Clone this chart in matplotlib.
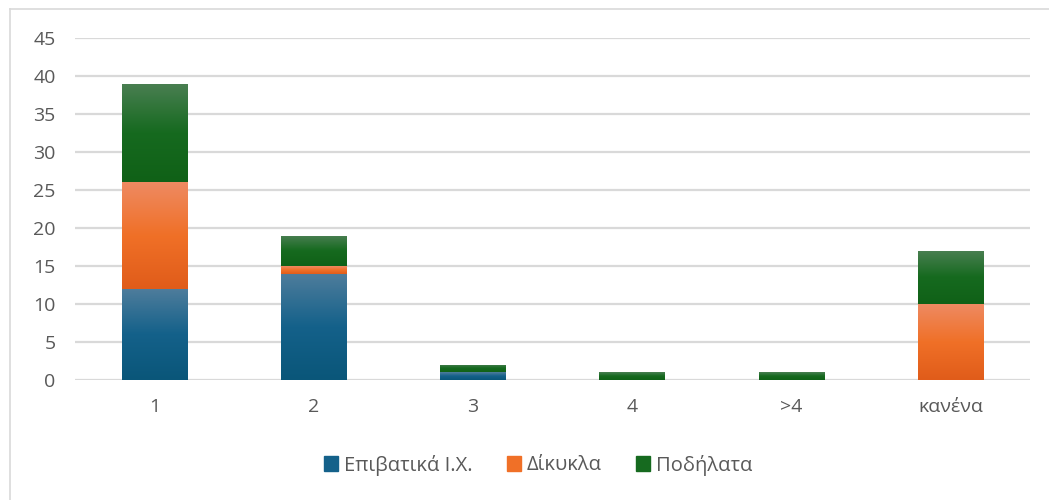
import numpy as np
import matplotlib
matplotlib.use('Agg')
import matplotlib.pyplot as plt
from matplotlib.colors import LinearSegmentedColormap
from matplotlib.patches import Rectangle
from matplotlib.lines import Line2D

categories = ['1', '2', '3', '4', '>4', 'κανένα']
cars = [12, 14, 1, 0, 0, 0]
bikes = [14, 1, 0, 0, 0, 10]
bicycles = [13, 4, 1, 1, 1, 7]

series_names = ['Επιβατικά Ι.Χ.', 'Δίκυκλα', 'Ποδήλατα']
# (top colour, middle colour, bottom colour) for each series gradient
gradients = [
    ('#4f7d9c', '#14618a', '#0a5679'),
    ('#ee8a62', '#f07027', '#e05c1a'),
    ('#4a7f52', '#166a1f', '#106117'),
]

plt.rcParams['font.family'] = ['Open Sans', 'DejaVu Sans']

fig = plt.figure(figsize=(10.49, 5.0), dpi=100)
ax = fig.add_axes([75 / 1049, 120 / 500, 955 / 1049, 342 / 500])

x = np.arange(len(categories))
width = 0.41
bottom = np.zeros(len(categories))
grad = np.linspace(0, 1, 256).reshape(-1, 1)

for name, vals, cols in zip(series_names, [cars, bikes, bicycles], gradients):
    cmap = LinearSegmentedColormap.from_list(name, [cols[2], cols[1], cols[0]])
    bars = ax.bar(x, vals, width, bottom=bottom, color=cols[1], label=name,
                  zorder=3, linewidth=0)
    for bar in bars:
        h = bar.get_height()
        if h <= 0:
            continue
        x0, y0 = bar.get_x(), bar.get_y()
        bar.set_alpha(0)
        im = ax.imshow(grad, cmap=cmap, aspect='auto', origin='lower',
                       extent=(x0, x0 + width, y0, y0 + h), zorder=4)
        clip = Rectangle((x0, y0), width, h, transform=ax.transData)
        im.set_clip_path(clip)
    bottom += np.array(vals)

ax.set_xlim(-0.5, len(categories) - 0.5)
ax.set_ylim(0, 45)
ax.set_yticks(range(0, 50, 5))
ax.set_xticks(x)
ax.set_xticklabels(categories)
ax.grid(axis='y', color='#d9d9d9', linewidth=1.6, zorder=0)
for s in ax.spines.values():
    s.set_visible(False)
ax.tick_params(length=0, labelsize=14, colors='#595959', pad=14)
ax.tick_params(axis='x', pad=13)

handles = [Rectangle((0, 0), 1, 1, color=c[1]) for c in gradients]
fig.legend(handles, series_names, loc='center', bbox_to_anchor=(538 / 1049, 1 - 465 / 500),
           ncol=3, frameon=False, fontsize=14.5, handlelength=0.7, handleheight=0.7,
           handletextpad=0.3, columnspacing=1.7, labelcolor='#595959')

# chart area border
fig.add_artist(Line2D([9.5 / 1049, 9.5 / 1049], [0, 1 - 9 / 500], color='#d9d9d9', linewidth=1.2))
fig.add_artist(Line2D([9.5 / 1049, 1], [1 - 9 / 500, 1 - 9 / 500], color='#d9d9d9', linewidth=1.2))

fig.savefig('out.png', dpi=100)
